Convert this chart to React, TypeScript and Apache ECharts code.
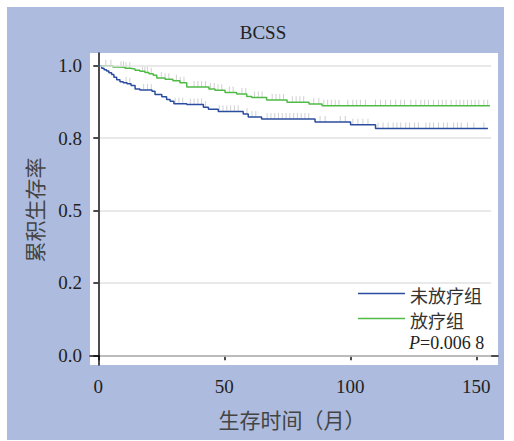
import React, { useEffect, useRef } from "react";
import * as echarts from "echarts";

const title = "BCSS";
const xAxisName = "生存时间（月）";
const yAxisName = "累积生存率";
const seriesNames = ["未放疗组", "放疗组"];
const pText = "=0.006 8";

const xTicks = [0, 50, 100, 150];
const yTickValues = [0, 0.25, 0.5, 0.75, 1];
const yTickLabels = ["0.0", "0.2", "0.5", "0.8", "1.0"];

// 未放疗组 (blue) step times and survival
const blueT = [0, 1.35, 2.3, 3.3, 4.2, 5.3, 6.2, 7.3, 8.6, 9.9, 11.4, 13, 14.6, 16.5, 21.3, 22.5, 25.2, 27.1, 28.5, 30, 35.1, 41.7, 43.7, 47.6, 57.5, 59.5, 64.8, 86, 100.1, 110, 154.6];
const blueS = [1, 0.991, 0.986, 0.982, 0.976, 0.97, 0.96, 0.952, 0.945, 0.941, 0.938, 0.932, 0.92, 0.916, 0.912, 0.901, 0.893, 0.883, 0.877, 0.869, 0.866, 0.857, 0.85, 0.842, 0.833, 0.823, 0.816, 0.806, 0.796, 0.783, 0.783];

// 放疗组 (green)
const greenT = [0, 5.8, 8.6, 10.6, 12.6, 14.6, 16.5, 18.5, 20.1, 21.8, 23.2, 26.5, 29.6, 32.4, 35.1, 43.9, 46.3, 50.3, 54.9, 58.9, 60.9, 66.8, 74.9, 83.6, 88.8, 155.4];
const greenS = [1, 0.996, 0.995, 0.991, 0.989, 0.984, 0.981, 0.977, 0.972, 0.967, 0.958, 0.953, 0.948, 0.941, 0.927, 0.92, 0.915, 0.908, 0.902, 0.894, 0.89, 0.882, 0.874, 0.868, 0.862, 0.862];

// censor times
const blueCensor = [11, 12.5, 18, 19.5, 21, 30.5, 32, 33.5, 36.5, 38, 39.5, 41, 42.5, 48, 49.5, 51, 52.5, 54, 55.5, 59, 61, 62.5, 67, 68.5, 70, 71.5, 73, 74.5, 76, 77.5, 79, 80.5, 82, 83.5, 88, 90, 96, 98, 101, 103, 105, 107, 111, 113, 115, 117, 118.5, 120, 122, 123.5, 125.5, 127, 130, 131.5, 133, 135, 137, 138.5, 141, 142.5, 144, 146.5, 149, 153];
const greenCensor = [3, 5, 9, 10, 11, 12.5, 17.5, 18.5, 19.5, 21, 25, 26.5, 28, 31, 32.5, 34, 38, 39.5, 41, 42.5, 44.5, 46, 47.5, 49, 52, 53.5, 57, 58.5, 62, 63.5, 65, 69, 70.5, 72, 73.5, 77, 78.5, 80, 81.5, 85.5, 87.5, 89.5, 91, 92.5, 94, 95.5, 99, 101, 102.5, 104, 106, 110, 112, 114, 116, 118, 120, 121.5, 124, 126, 128, 129.5, 131, 133, 135, 136.5, 138, 140, 142, 143.5, 145, 146.5, 148, 149.5, 151, 153, 154.5];

const BLUE = "#2b4c9f";
const GREEN = "#4fbb45";
const BG = "#adbcde";
const SERIF = "'Liberation Serif', 'Noto Sans CJK SC', serif";
const CJK = "'Noto Sans CJK SC', sans-serif";

function stepAt(ts: number[], ss: number[], t: number) {
  let v = ss[0];
  for (let i = 0; i < ts.length; i++) {
    if (ts[i] <= t) v = ss[i];
  }
  return v;
}

export default function App() {
  const ref = useRef<HTMLDivElement>(null);
  useEffect(() => {
    if (!ref.current) return;
    const chart = echarts.init(ref.current, undefined, { renderer: "svg" });
    const blueData = blueT.map((t, i) => [t, blueS[i]]);
    const greenData = greenT.map((t, i) => [t, greenS[i]]);
    const blueCens = blueCensor.map((t) => [t, stepAt(blueT, blueS, t)]);
    const greenCens = greenCensor.map((t) => [t, stepAt(greenT, greenS, t)]);
    const censorStyle = {
      type: "scatter",
      symbol: "rect",
      symbolSize: [1, 6],
      symbolOffset: [0, -3],
      itemStyle: { color: "#c4c4c4" },
      silent: true,
      z: 2,
    };
    chart.setOption({
      animation: false,
      backgroundColor: "#ffffff",
      grid: { left: 90, right: 16, top: 53, bottom: 76, show: false },
      xAxis: {
        type: "value",
        min: -3.29,
        max: 158.6,
        axisLine: { show: true, lineStyle: { color: "#111", width: 1.5 } },
        axisTick: { show: true, length: 5, customValues: xTicks, lineStyle: { color: "#111", width: 1.5 } },
        axisLabel: {
          customValues: xTicks,
          fontFamily: SERIF,
          fontSize: 19,
          color: "#222",
          margin: 12,
        },
        splitLine: { show: false },
      },
      yAxis: {
        type: "value",
        min: -0.0335,
        max: 1.044,
        axisLine: { show: true, lineStyle: { color: "#111", width: 1.5 } },
        axisTick: { show: true, length: 5, customValues: yTickValues, lineStyle: { color: "#111", width: 1.5 } },
        axisLabel: {
          customValues: yTickValues,
          formatter: (v: number) => {
            const i = yTickValues.findIndex((x) => Math.abs(x - v) < 1e-6);
            return i >= 0 ? yTickLabels[i] : "";
          },
          fontFamily: SERIF,
          fontSize: 19,
          color: "#222",
          margin: 8,
        },
        splitLine: { show: false },
      },
      graphic: [
        { type: "rect", z: -10, shape: { x: 7, y: 7, width: 497, height: 433 }, style: { fill: BG } },
        { type: "rect", z: -9, shape: { x: 90, y: 53, width: 408, height: 312 }, style: { fill: "#ffffff" } },
        {
          type: "text", x: 263, y: 32,
          style: { text: title, fontFamily: SERIF, fontSize: 19, fill: "#222", align: "center", verticalAlign: "middle" },
        },
        {
          type: "text", x: 292, y: 419,
          style: { text: xAxisName, fontFamily: CJK, fontSize: 21, fill: "#444", align: "center", verticalAlign: "middle" },
        },
        {
          type: "text", x: 34, y: 210, rotation: Math.PI / 2,
          style: { text: yAxisName, fontFamily: CJK, fontSize: 21, fill: "#444", align: "center", verticalAlign: "middle" },
        },
        { type: "line", shape: { x1: 358, y1: 293.5, x2: 405, y2: 293.5 }, style: { stroke: BLUE, lineWidth: 1.5 } },
        { type: "line", shape: { x1: 358, y1: 318.5, x2: 405, y2: 318.5 }, style: { stroke: GREEN, lineWidth: 1.5 } },
        {
          type: "text", x: 410, y: 295,
          style: { text: seriesNames[0], fontFamily: CJK, fontSize: 18, fill: "#333", align: "left", verticalAlign: "middle" },
        },
        {
          type: "text", x: 410, y: 320,
          style: { text: seriesNames[1], fontFamily: CJK, fontSize: 18, fill: "#333", align: "left", verticalAlign: "middle" },
        },
        {
          type: "text", x: 409, y: 343,
          style: {
            text: "{i|P}" + pText,
            fontFamily: SERIF, fontSize: 18, fill: "#222", align: "left", verticalAlign: "middle",
            rich: { i: { fontStyle: "italic", fontFamily: SERIF, fontSize: 18, fill: "#222" } },
          },
        },
      ],
      series: [
        {
          type: "line",
          data: [[0, 0]],
          showSymbol: false,
          lineStyle: { width: 0 },
          silent: true,
          z: 1,
          markLine: {
            silent: true,
            symbol: "none",
            label: { show: false },
            lineStyle: { color: "#e2e2e2", width: 1.5, type: "solid" },
            data: yTickValues.map((v) => [{ coord: [0.67, v] }, { coord: [155.9, v] }]),
          },
        },
        { ...censorStyle, name: seriesNames[1] + "c", data: greenCens },
        { ...censorStyle, name: seriesNames[0] + "c", data: blueCens },
        {
          type: "line",
          name: seriesNames[1],
          data: greenData,
          step: "end",
          showSymbol: false,
          lineStyle: { color: GREEN, width: 1.5 },
          z: 3,
        },
        {
          type: "line",
          name: seriesNames[0],
          data: blueData,
          step: "end",
          showSymbol: false,
          lineStyle: { color: BLUE, width: 1.5 },
          z: 3,
        },
      ],
    });
    return () => chart.dispose();
  }, []);
  return (
    <div
      ref={ref}
      style={{ position: "fixed", left: 0, top: 0, width: 514, height: 441 }}
    />
  );
}
